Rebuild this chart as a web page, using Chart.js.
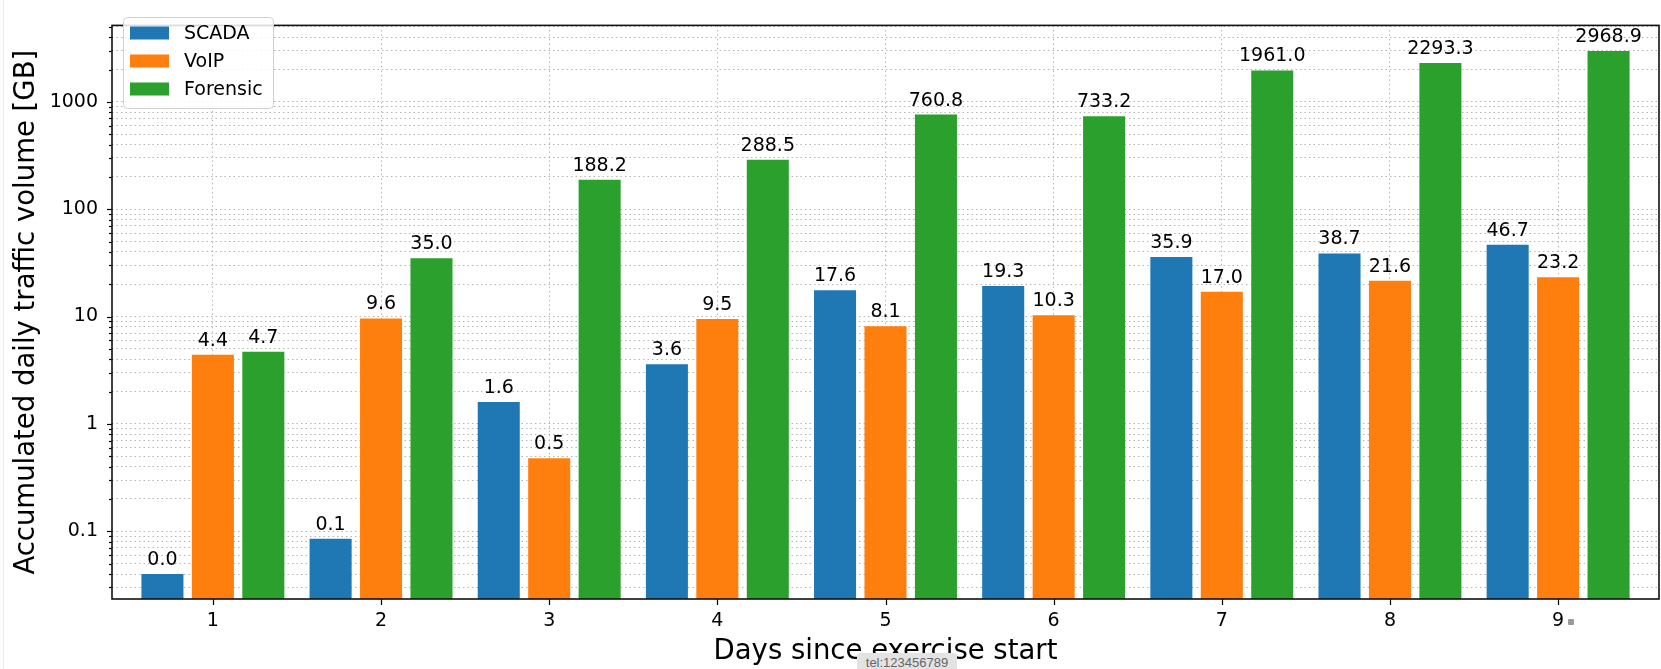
<!DOCTYPE html>
<html>
<head>
<meta charset="utf-8">
<script src="https://cdn.jsdelivr.net/npm/chart.js@4/dist/chart.umd.min.js"></script>
<style>
  html, body { margin: 0; padding: 0; background: #fff; }
  #wrap { position: relative; width: 1661px; height: 669px; overflow: hidden; }
  canvas { display: block; }
  .edge { position: absolute; left: 3px; top: 0; width: 1px; height: 669px; background: #ececec; }
  .tel { position: absolute; left: 857px; top: 653px; width: 100px; height: 19px; background: #e3e3e3;
         border-radius: 3px; font: 13px "Liberation Sans", Arial, sans-serif; color: #666;
         text-align: center; line-height: 19px; }
  .dot { position: absolute; left: 1568px; top: 619px; width: 6px; height: 6px; background: #9a9a9a; border-radius: 1px; }
</style>
</head>
<body>
<div id="wrap">
  <canvas id="c" width="1661" height="669"></canvas>
  <div class="edge"></div>
  <div class="dot"></div>
  <div class="tel">tel:123456789</div>
</div>
<script>
// Accumulated daily traffic per exercise day (GB)
const days = [1, 2, 3, 4, 5, 6, 7, 8, 9];
const scada    = [0.04, 0.085, 1.6, 3.6, 17.6, 19.3, 35.9, 38.7, 46.7];
const voip     = [4.4, 9.6, 0.48, 9.5, 8.1, 10.3, 17.0, 21.6, 23.2];
const forensic = [4.7, 35.0, 188.2, 288.5, 760.8, 733.2, 1961.0, 2293.3, 2968.9];

const seriesNames  = ['SCADA', 'VoIP', 'Forensic'];
const seriesColors = ['#1f77b4', '#ff7f0e', '#2ca02c'];

const yMajorTicks  = [0.1, 1, 10, 100, 1000];
const yTickLabels  = ['0.1', '1', '10', '100', '1000'];
const xTickLabels  = ['1', '2', '3', '4', '5', '6', '7', '8', '9'];

const FONT = "'DejaVu Sans', 'Liberation Sans', sans-serif";

// log-axis minor ticks: 2..9 times each decade, inside the axis range
const Y_MIN = 0.0234, Y_MAX = 5150;
const yAllTicks = [];
[0.01, 0.1, 1, 10, 100, 1000].forEach(dec => {
  for (let m = 1; m <= 9; m++) {
    const v = +(dec * m).toPrecision(6);
    if (v >= Y_MIN && v <= Y_MAX) yAllTicks.push(v);
  }
});
const isMajor = v => yMajorTicks.some(t => Math.abs(t - v) / t < 1e-6);

function pts(vals) { return days.map((d, i) => ({ x: d, y: vals[i] })); }

const datasets = [scada, voip, forensic].map((vals, i) => ({
  label: seriesNames[i],
  data: pts(vals),
  backgroundColor: seriesColors[i],
  borderWidth: 0,
  categoryPercentage: 0.9,
  barPercentage: 0.8333
}));

// frame, tick marks, value labels, legend box
const decorations = {
  id: 'decorations',
  afterDatasetsDraw(chart) {
    const { ctx, chartArea: a, scales } = chart;
    ctx.save();
    // tick marks
    ctx.strokeStyle = '#000';
    ctx.lineWidth = 1.2;
    scales.y.ticks.forEach(t => {
      const y = Math.round(scales.y.getPixelForValue(t.value)) + 0.5;
      const len = isMajor(t.value) ? 5 : 3;
      ctx.beginPath(); ctx.moveTo(a.left - len, y); ctx.lineTo(a.left, y); ctx.stroke();
    });
    scales.x.ticks.forEach(t => {
      const x = Math.round(scales.x.getPixelForValue(t.value)) + 0.5;
      ctx.beginPath(); ctx.moveTo(x, a.bottom); ctx.lineTo(x, a.bottom + 6); ctx.stroke();
    });
    // frame
    ctx.lineWidth = 1.6;
    ctx.strokeStyle = '#111';
    ctx.strokeRect(a.left, a.top, a.right - a.left, a.bottom - a.top);

    // value labels
    ctx.fillStyle = '#000';
    ctx.font = '19px ' + FONT;
    ctx.textAlign = 'center';
    ctx.textBaseline = 'alphabetic';
    chart.data.datasets.forEach((ds, di) => {
      const meta = chart.getDatasetMeta(di);
      meta.data.forEach((el, i) => {
        ctx.fillText(ds.data[i].y.toFixed(1), el.x, el.y - 9);
      });
    });

    // legend
    const lx = 123, ly = 17, lw = 150, lh = 91;
    ctx.beginPath();
    ctx.roundRect(lx + 0.5, ly + 0.5, lw, lh, 4);
    ctx.fillStyle = 'rgba(255,255,255,0.85)';
    ctx.fill();
    ctx.strokeStyle = '#d0d0d0';
    ctx.lineWidth = 1;
    ctx.stroke();
    ctx.textAlign = 'left';
    ctx.textBaseline = 'middle';
    chart.data.datasets.forEach((ds, i) => {
      const cy = 33 + i * 28;
      ctx.fillStyle = ds.backgroundColor;
      ctx.fillRect(130, cy - 6.5, 39, 13);
      ctx.fillStyle = '#000';
      ctx.fillText(ds.label, 184, cy + 1);
    });
    ctx.restore();
  }
};

new Chart(document.getElementById('c'), {
  type: 'bar',
  data: { datasets },
  plugins: [decorations],
  options: {
    responsive: false,
    animation: false,
    devicePixelRatio: 1,
    layout: { padding: { left: 0, right: 2, top: 7, bottom: 0 } },
    plugins: { legend: { display: false }, tooltip: { enabled: false } },
    scales: {
      x: {
        type: 'linear',
        min: 0.4,
        max: 9.6,
        offset: false,
        afterFit: s => { s.height = 70; },
        ticks: {
          stepSize: 1,
          includeBounds: false,
          autoSkip: false,
          maxRotation: 0,
          padding: 11,
          color: '#000',
          font: { family: FONT, size: 19 },
          callback: (v) => Number.isInteger(v) ? xTickLabels[v - 1] : ''
        },
        grid: { offset: false, color: '#b5b5b5', lineWidth: 1, drawTicks: false },
        border: { display: false, dash: [1.5, 3] },
        title: {
          display: true,
          text: 'Days since exercise start',
          color: '#000',
          font: { family: FONT, size: 27.5 },
          padding: { top: 0, bottom: 0.5 }
        }
      },
      y: {
        type: 'logarithmic',
        min: Y_MIN,
        max: Y_MAX,
        afterFit: s => { s.width = 112; },
        afterBuildTicks: s => { s.ticks = yAllTicks.map(v => ({ value: v, major: isMajor(v) })); },
        ticks: {
          autoSkip: false,
          padding: 14,
          color: '#000',
          font: { family: FONT, size: 19 },
          callback: (v) => {
            const k = yMajorTicks.findIndex(t => Math.abs(t - v) / t < 1e-6);
            return k >= 0 ? yTickLabels[k] : '';
          }
        },
        grid: { color: '#b5b5b5', lineWidth: 1, drawTicks: false },
        border: { display: false, dash: [1.5, 3] },
        title: {
          display: true,
          text: 'Accumulated daily traffic volume [GB]',
          color: '#000',
          font: { family: FONT, size: 27.5 },
          padding: { top: 10.5, bottom: 0 }
        }
      }
    }
  }
});
</script>
</body>
</html>
